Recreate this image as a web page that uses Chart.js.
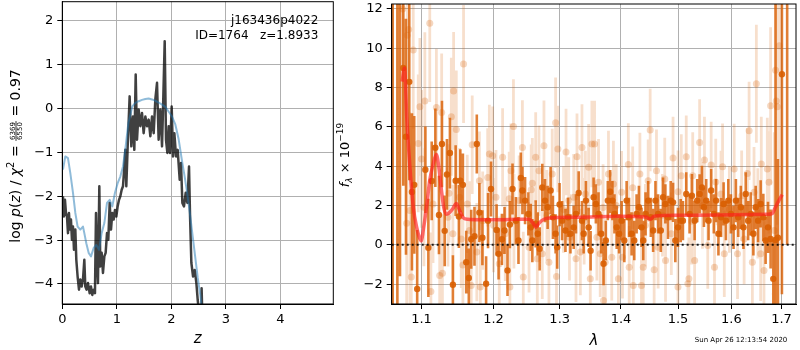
<!DOCTYPE html>
<html>
<head>
<meta charset="utf-8">
<script src="https://cdn.jsdelivr.net/npm/chart.js@4.4.1/dist/chart.umd.min.js"></script>
<style>
  body { margin: 0; background: #fff; }
  #wrap { position: relative; width: 800px; height: 350px; }
  canvas { position: absolute; top: 0; }
</style>
</head>
<body>
<div id="wrap">
  <canvas id="pz" width="336" height="350" style="left:0"></canvas>
  <canvas id="spec" width="466" height="350" style="left:334px"></canvas>
</div>
<script>
// ---- p(z) panel ----
const zTicks = [0, 1, 2, 3, 4];
const pzTicks = [2, 1, 0, -1, -2, -3, -4];
const objName = 'j163436p4022';
const objInfo = 'ID=1764   z=1.8933';

// log p(z), black curve (null = gap)
const zBlack = [0.012, 0.031, 0.049, 0.067, 0.086, 0.104, 0.122, 0.141, 0.159, 0.177, 0.196, 0.214, 0.239, 0.257,
  0.281, 0.306, 0.330, 0.355, 0.379, 0.404, 0.422, 0.446, 0.471, 0.502, 0.526, 0.550, 0.575, 0.599, 0.618, 0.636,
  0.654, 0.679, 0.697, 0.722, 0.746, 0.771, 0.795, 0.820, 0.844, 0.869, 0.893, 0.917, 0.942, 0.966, 0.991, 1.015,
  1.040, 1.064, 1.089, 1.113, 1.138, 1.156, 1.174, 1.199, 1.235, 1.266, 1.297, 1.321, 1.346, 1.370, 1.401, 1.431,
  1.462, 1.492, 1.523, 1.554, 1.584, 1.615, 1.645, 1.676, 1.706, 1.737, 1.767, 1.798, 1.829, 1.853, 1.878, 1.902,
  1.927, 1.951, 1.976, 2.006, 2.031, 2.055, 2.086, 2.116, 2.153, 2.177, 2.202, 2.232, 2.263, 2.294, 2.324, 2.343,
  2.367, 2.398, 2.428, 2.459, 2.483, 2.508, 2.530, 2.537, 2.545, 2.555, 2.565, 2.575];
const pBlack = [-2.00, -2.46, -2.08, -2.38, -2.46, -2.84, -2.38, -2.76, -2.53, -2.99, -2.69, -3.22, -2.76, -3.45,
  -3.83, -4.13, -3.90, -4.06, -3.90, -3.45, -4.06, -4.13, -3.98, -4.21, -4.06, -4.25, -4.13, -4.21, -2.38, -3.45,
  -3.98, -1.77, -3.60, -3.29, -3.75, -3.37, -3.29, -2.84, -2.99, -2.15, -2.76, -2.38, -2.53, -2.31, -2.46, -2.23,
  -2.08, -2.00, -1.85, -1.77, -1.32, -0.94, -1.77, -0.86, 0.28, -0.86, -0.18, -0.94, 0.78, -0.71, -0.02, -0.40,
  -0.10, -0.56, -0.18, -0.40, -0.25, -0.63, -0.18, -0.56, 0.21, 0.59, -0.71, -0.02, -0.86, 0.28, 1.54, -0.71,
  -1.01, -0.40, -1.01, 0.05, -1.09, -0.56, -1.09, -0.94, -1.62, -1.24, -2.15, -2.23, -1.92, -2.15, -1.32, -2.46,
  -3.52, -3.83, -3.68, -3.98, -4.36, -4.66, -5.20, null, -5.5, -4.1, -4.6, -5.5];

// blue curve
const zBlue = [0.012, 0.055, 0.104, 0.147, 0.196, 0.239, 0.281, 0.330, 0.379, 0.404, 0.440, 0.483, 0.526, 0.575,
  0.624, 0.673, 0.722, 0.771, 0.820, 0.869, 0.917, 0.966, 1.015, 1.064, 1.113, 1.162, 1.211, 1.284, 1.339, 1.401,
  1.462, 1.523, 1.584, 1.645, 1.706, 1.767, 1.829, 1.890, 1.951, 2.012, 2.073, 2.134, 2.196, 2.244, 2.287, 2.336,
  2.385, 2.434, 2.483, 2.530, 2.580];
const pBlue = [-1.39, -1.09, -1.13, -1.47, -1.92, -2.38, -2.69, -2.76, -2.69, -2.84, -3.07, -3.29, -3.37, -3.18,
  -3.11, -3.22, -2.84, -2.61, -2.15, -2.08, -2.23, -1.92, -1.70, -1.55, -1.32, -0.86, -0.33, 0.05, 0.13, 0.17,
  0.20, 0.22, 0.23, 0.21, 0.18, 0.14, 0.09, 0.04, -0.07, -0.18, -0.36, -0.70, -1.20, -1.55, -1.90, -2.35,
  -2.85, -3.35, -3.85, -4.25, -4.75];

// ---- spectrum panel ----
const lamTicks = [1.1, 1.2, 1.3, 1.4, 1.5, 1.6, 1.7];
const fluxTicks = [12, 10, 8, 6, 4, 2, 0, -2];
const lamRange = [1.061, 1.730];
const stamp = 'Sun Apr 26 12:13:54 2020';

// good pixels: [lambda, flux, err]
const darkPts = [
  [1.0623, 14.0, 18], [1.0683, 14.0, 18], [1.0717, 14.0, 15.6], [1.0760, 9.0, 6], [1.0795, 5.5, 6], [1.0838, 8.29, 5],
  [1.0873, 2.69, 4], [1.0903, 3.05, 3.5], [1.0942, -2.25, 3], [1.1051, 3.82, 2.2], [1.1091, -0.15, 2.5],
  [1.1136, 3.25, 2.0], [1.1185, 4.94, 2.0], [1.1234, 1.52, 2.0], [1.1275, 5.13, 2.2], [1.1312, 0.71, 1.8],
  [1.1343, 3.58, 1.8], [1.1384, 4.67, 1.8], [1.1425, -2.03, 1.5], [1.1463, 3.26, 1.8], [1.1508, 1.44, 1.6],
  [1.1528, 3.26, 1.6], [1.1564, 3.05, 1.6], [1.1611, -0.88, 1.6], [1.1647, -1.69, 1.5], [1.1681, 0.28, 1.5],
  [1.1727, 0.44, 1.5], [1.1760, 5.13, 1.5], [1.1797, 1.64, 1.5], [1.1840, 0.36, 1.4], [1.1893, -1.98, 1.4],
  [1.1921, 1.23, 1.4], [1.1964, 2.84, 1.4], [1.2045, 0.76, 1.3], [1.2074, -0.46, 1.3], [1.2123, 0.28, 1.3],
  [1.2161, 0.73, 1.2], [1.2205, -1.30, 1.3], [1.2240, 1.03, 1.2], [1.2279, 2.84, 1.3], [1.2329, 1.23, 1.2],
  [1.2368, 0.22, 1.2], [1.2403, 3.40, 1.3], [1.2427, 2.76, 1.2], [1.2467, 2.25, 1.2], [1.2517, 1.57, 1.1],
  [1.2553, 0.89, 1.2], [1.2577, 0.22, 1.1], [1.2628, 1.07, 1.2], [1.2659, 0.56, 1.1], [1.2689, -0.20, 1.1],
  [1.2729, 2.92, 1.2], [1.2771, 2.25, 1.1], [1.2812, 1.91, 1.1], [1.2858, 2.76, 1.2], [1.2894, 1.40, 1.1],
  [1.2936, 0.56, 1.0], [1.2961, -0.12, 1.1], [1.2998, 2.05, 1.1], [1.3038, 1.23, 1.0], [1.3091, 0.73, 1.1],
  [1.3132, 1.40, 1.0], [1.3170, 0.56, 1.0], [1.3222, 0.89, 1.1], [1.3259, 1.57, 1.0], [1.3302, 2.64, 1.1],
  [1.3355, 1.23, 1.0], [1.3382, 0.56, 1.0], [1.3419, 2.25, 1.0], [1.3463, 0.89, 1.0], [1.3495, -0.30, 1.0],
  [1.3544, 2.42, 1.0], [1.3581, 2.08, 1.0], [1.3625, 1.57, 1.1], [1.3670, 0.56, 1.0], [1.3708, -0.96, 1.1],
  [1.3746, 0.22, 1.0], [1.3779, 2.25, 1.0], [1.3818, 2.70, 1.1], [1.3856, 2.25, 1.0], [1.3890, 1.57, 1.0],
  [1.3928, 0.89, 1.1], [1.3968, 0.56, 1.0], [1.4011, 1.23, 1.0], [1.4057, 0.22, 1.1], [1.4096, 2.25, 1.0],
  [1.4137, 1.40, 1.0], [1.4181, 0.56, 1.1], [1.4227, 0.22, 1.0], [1.4267, 1.57, 1.0], [1.4307, 1.91, 1.1],
  [1.4352, 0.89, 1.0], [1.4382, 0.22, 1.0], [1.4422, 1.57, 1.1], [1.4468, 2.25, 1.0], [1.4515, 1.40, 1.0],
  [1.4555, 0.73, 1.1], [1.4596, 2.25, 1.0], [1.4643, 1.57, 1.0], [1.4691, 0.73, 1.1], [1.4731, 2.42, 1.0],
  [1.4772, 2.08, 1.0], [1.4820, 1.40, 1.1], [1.4868, 2.25, 1.0], [1.4910, 2.16, 1.0], [1.4951, 0.22, 1.1],
  [1.4999, 0.89, 1.0], [1.5048, 1.23, 1.1], [1.5089, 1.23, 1.0], [1.5150, 2.59, 1.1], [1.5211, 1.57, 1.0],
  [1.5254, 2.50, 1.1], [1.5304, 1.23, 1.0], [1.5352, 2.25, 1.1], [1.5397, 2.59, 1.0], [1.5440, 2.92, 1.1],
  [1.5477, 1.91, 1.0], [1.5520, 2.25, 1.1], [1.5564, 1.23, 1.0], [1.5613, 2.76, 1.1], [1.5663, 1.57, 1.0],
  [1.5706, 2.25, 1.1], [1.5751, 0.56, 1.1], [1.5800, 1.40, 1.0], [1.5850, 2.08, 1.1], [1.5894, 1.23, 1.0],
  [1.5940, 2.25, 1.1], [1.5990, 1.57, 1.0], [1.6042, 0.89, 1.1], [1.6087, 2.25, 1.1], [1.6133, 1.40, 1.0],
  [1.6183, 1.91, 1.1], [1.6235, 0.89, 1.1], [1.6280, 2.59, 1.1], [1.6327, 1.23, 1.0], [1.6378, 1.57, 1.1],
  [1.6431, 0.56, 1.1], [1.6477, 1.91, 1.1], [1.6524, 1.23, 1.1], [1.6576, 2.08, 1.2], [1.6630, 1.40, 1.2],
  [1.6676, 0.22, 1.2], [1.6724, 0.89, 1.3], [1.6777, 0.30, 1.5], [1.6831, -1.73, 2.0], [1.6878, 0.25, 14],
  [1.6926, 0.36, 4], [1.7008, 8.68, 11.2], [1.7116, 13.0, 13]
];

// lower-weight pixels: [lambda, flux, err]
const lightPts = [
  [1.0752, 12.0, 6], [1.0812, 10.66, 5], [1.0830, 10.95, 5], [1.0890, 9.91, 4], [1.1110, 11.27, 4], [1.1573, 9.2, 3],
  [1.1435, 7.83, 3], [1.1044, 7.31, 3.5], [1.0978, 7.02, 3.5], [1.1199, 6.98, 3], [1.1271, 6.73, 3], [1.1403, 6.51, 3],
  [1.1472, 5.87, 3], [1.1695, 5.09, 2.5], [1.1940, 4.62, 2.5], [1.0956, 5.16, 3.5], [1.1000, 4.37, 3.5],
  [1.0804, 1.1, 5], [1.0847, 1.74, 5], [1.1031, 1.91, 3], [1.1154, 2.08, 3], [1.1371, 2.62, 2.5], [1.1518, 2.42, 2.5],
  [1.1625, 2.08, 2.5], [1.1797, 3.26, 2.5], [1.1916, 3.43, 2.5], [1.0864, -1.64, 4], [1.1244, -1.56, 3],
  [1.1281, -1.44, 3], [1.1125, -2.37, 3], [1.1564, -1.02, 2.5], [1.1681, -2.07, 2.5], [1.1810, -2.15, 2.5],
  [1.1425, 0.56, 2.5], [1.1541, 0.30, 2.5], [1.1657, 0.73, 2.5], [1.1760, -0.37, 2.5], [1.1844, 1.23, 2.5],
  [1.1357, 1.40, 2.5], [1.1988, 4.53, 2.5], [1.2133, 4.45, 2.5], [1.2293, 6.02, 2.4], [1.2255, 3.77, 2.4],
  [1.2427, 4.95, 2.4], [1.2577, 3.13, 2.3], [1.2628, 4.45, 2.3], [1.2755, 5.04, 2.3], [1.2936, 6.21, 2.3],
  [1.2971, 4.87, 2.2], [1.3100, 4.72, 2.2], [1.3275, 4.48, 2.2], [1.3355, 4.95, 2.2], [1.3516, 5.13, 2.2],
  [1.3463, 3.94, 2.2], [1.2036, 2.42, 2.4], [1.2230, 2.34, 2.4], [1.2378, 2.25, 2.3], [1.2678, 3.77, 2.3],
  [1.2883, 3.60, 2.3], [1.3143, 2.25, 2.2], [1.3222, 2.42, 2.2], [1.3410, 2.59, 2.2], [1.2084, -0.96, 2.4],
  [1.2240, -2.15, 2.4], [1.2440, -1.64, 2.3], [1.2653, -0.71, 2.3], [1.2729, -0.46, 2.3], [1.2832, -0.88, 2.3],
  [1.2950, -1.61, 2.2], [1.3259, -0.71, 2.2], [1.3329, -0.37, 2.2], [1.3155, 0.39, 2.2], [1.2527, -0.12, 2.3],
  [1.2172, 0.56, 2.4], [1.3560, 5.13, 2.2], [1.4503, 5.84, 2.1], [1.4910, 4.42, 2.1], [1.5150, 4.48, 2.1],
  [1.3790, 3.60, 2.2], [1.4125, 4.08, 2.1], [1.4324, 3.60, 2.1], [1.4614, 3.77, 2.1], [1.4761, 3.35, 2.1],
  [1.5059, 3.52, 2.1], [1.3625, 3.18, 2.2], [1.3873, 3.10, 2.2], [1.4011, 2.67, 2.1], [1.4468, 3.26, 2.1],
  [1.3708, -2.83, 2.2], [1.3736, -0.88, 2.2], [1.3956, -1.73, 2.1], [1.4140, -1.14, 2.1], [1.4210, -2.07, 2.1],
  [1.4382, -1.14, 2.1], [1.4352, -2.07, 2.1], [1.4573, -1.27, 2.1], [1.4775, -0.80, 2.1], [1.4999, -2.15, 2.1],
  [1.5180, -1.98, 2.1], [1.3653, -0.46, 2.2], [1.3845, -0.63, 2.2], [1.4025, -0.63, 2.1], [1.4643, -0.12, 2.1],
  [1.4879, 0.56, 2.1], [1.3490, -1.73, 2.2], [1.3598, 0.39, 2.2], [1.6490, 8.19, 3], [1.6878, 8.88, 6],
  [1.6892, 7.32, 6], [1.6912, 7.02, 6], [1.6777, 7.07, 4], [1.6953, 10.12, 8], [1.6346, 5.80, 2.5],
  [1.5397, 5.21, 2.2], [1.5613, 4.06, 2.2], [1.5830, 3.97, 2.2], [1.6313, 3.63, 2.3], [1.6589, 4.11, 2.4],
  [1.6710, 3.86, 2.6], [1.5269, 3.52, 2.2], [1.5487, 4.31, 2.2], [1.6054, 3.86, 2.3], [1.5800, 2.59, 2.2],
  [1.6444, 2.67, 2.3], [1.6744, 3.18, 2.6], [1.5304, -0.80, 2.2], [1.5676, -1.14, 2.2], [1.5863, -0.46, 2.2],
  [1.6119, -0.46, 2.3], [1.6411, -0.88, 2.3], [1.6576, -0.46, 2.4], [1.6643, -1.30, 2.5], [1.5198, -1.73, 2.1],
  [1.5549, -0.04, 2.2], [1.6248, 0.30, 2.3], [1.6852, 0.73, 5], [1.3060, 1.8, 2.2], [1.3390, 1.2, 2.2],
  [1.3700, 1.9, 2.2], [1.3920, 2.0, 2.1], [1.4200, 2.9, 2.1], [1.4420, 1.0, 2.1], [1.4720, 1.5, 2.1],
  [1.5000, 2.7, 2.1], [1.5250, 1.2, 2.2], [1.5450, 2.0, 2.2], [1.5700, 3.2, 2.2], [1.5960, 1.8, 2.2],
  [1.6200, 2.5, 2.3], [1.6520, 1.6, 2.3], [1.2560, 2.8, 2.3], [1.2800, 1.5, 2.3], [1.2300, 1.2, 2.4],
  [1.2000, 1.0, 2.4]
];

// model spectrum
const modelLam = [1.0745, 1.0776, 1.0805, 1.0847, 1.0891, 1.0935, 1.0978, 1.0998, 1.1021, 1.1066, 1.1110, 1.1155,
  1.1199, 1.1234, 1.1267, 1.1299, 1.1335, 1.1380, 1.1425, 1.1472, 1.1518, 1.1564, 1.1633, 1.1797, 1.2084, 1.2378,
  1.2527, 1.2588, 1.2628, 1.2678, 1.2755, 1.2910, 1.3302, 1.3956, 1.4433, 1.4503, 1.4573, 1.4999, 1.5736, 1.6710,
  1.6811, 1.6872, 1.6933, 1.7014];
const modelFlux = [8.3, 9.0, 6.5, 3.9, 1.9, 0.9, 0.3, 0.2, 0.7, 1.9, 3.3, 4.1,
  4.6, 3.9, 2.8, 1.9, 1.55, 1.65, 1.85, 2.1, 1.75, 1.4, 1.3, 1.28, 1.28, 1.3,
  1.3, 1.1, 0.9, 1.1, 1.3, 1.38, 1.4, 1.45, 1.42, 1.3, 1.45, 1.5, 1.52, 1.55,
  1.6, 1.9, 2.2, 2.55];

Chart.defaults.font.family = "'DejaVu Sans', sans-serif";
Chart.defaults.font.size = 13;
Chart.defaults.color = '#000';

const minus = v => String(v).replace('-', '\u2212');
const ORANGE = 'rgba(217,95,2,';

// box around the plot area
const frame = {
  id: 'frame',
  afterDraw(chart) {
    const { ctx, chartArea: a } = chart;
    ctx.save();
    ctx.strokeStyle = '#000';
    ctx.lineWidth = 1;
    ctx.strokeRect(a.left, a.top, a.right - a.left, a.bottom - a.top);
    ctx.restore();
  }
};

// draws a rotated run of text pieces, centred on (cx, cy)
function drawRotated(ctx, cx, cy, parts) {
  ctx.save();
  ctx.translate(cx, cy);
  ctx.rotate(-Math.PI / 2);
  ctx.fillStyle = '#000';
  ctx.textBaseline = 'alphabetic';
  ctx.textAlign = 'left';
  let total = 0;
  parts.forEach(p => {
    ctx.font = p.font;
    p.w = p.frac ? Math.max(ctx.measureText(p.frac[0]).width, ctx.measureText(p.frac[1]).width) + 2 : ctx.measureText(p.text).width;
    total += p.w;
  });
  let x = -total / 2;
  parts.forEach(p => {
    ctx.font = p.font;
    if (p.frac) {
      const bar = -4;
      ctx.textAlign = 'center';
      ctx.fillText(p.frac[0], x + p.w / 2, bar - 1.3);
      ctx.fillText(p.frac[1], x + p.w / 2, bar + 6.3);
      ctx.fillRect(x, bar - 0.4, p.w, 0.8);
      ctx.textAlign = 'left';
    } else {
      ctx.fillText(p.text, x, p.dy || 0);
    }
    x += p.w;
  });
  ctx.restore();
}

const pzText = {
  id: 'pzText',
  afterDraw(chart) {
    const ctx = chart.ctx;
    ctx.save();
    ctx.fillStyle = '#000';
    ctx.font = "12px 'DejaVu Sans'";
    ctx.textAlign = 'right';
    ctx.fillText(objName, 318.3, 24.3);
    ctx.fillText(objInfo, 318.3, 39.3);
    ctx.restore();
    const n = "14px 'DejaVu Sans'", it = "italic 14px 'DejaVu Sans'";
    drawRotated(ctx, 20, 156, [
      { text: 'log ', font: n }, { text: 'p', font: it }, { text: '(', font: n }, { text: 'z', font: it },
      { text: ') / ', font: n }, { text: '\u03c7', font: it }, { text: '2', font: "10px 'DejaVu Sans'", dy: -6 },
      { text: ' = ', font: n }, { frac: ['6369', '6550'], font: "7px 'DejaVu Sans'" }, { text: ' = 0.97', font: n }
    ]);
  }
};

const specText = {
  id: 'specText',
  afterDraw(chart) {
    const ctx = chart.ctx;
    drawRotated(ctx, 15, 155, [
      { text: 'f', font: "italic 13px 'DejaVu Sans'" }, { text: '\u03bb', font: "italic 9px 'DejaVu Sans'", dy: 3 },
      { text: ' \u00d7 10', font: "13px 'DejaVu Sans'" }, { text: '\u221219', font: "9px 'DejaVu Sans'", dy: -6 }
    ]);
    ctx.save();
    ctx.fillStyle = '#000';
    ctx.font = "7px 'DejaVu Sans'";
    ctx.textAlign = 'right';
    ctx.fillText(stamp, 453.3, 342);
    ctx.restore();
  }
};

function gridOpts() {
  return { color: '#b0b0b0', lineWidth: 1, tickColor: '#000', tickLength: 5 };
}

new Chart(document.getElementById('pz'), {
  type: 'scatter',
  data: {
    datasets: [
      {
        data: zBlue.map((z, i) => ({ x: z, y: pBlue[i] })),
        showLine: true, borderColor: 'rgba(31,119,180,0.5)', borderWidth: 2, pointRadius: 0,
        borderJoinStyle: 'round'
      },
      {
        data: zBlack.map((z, i) => ({ x: z, y: pBlack[i] })),
        showLine: true, spanGaps: false, borderColor: 'rgba(0,0,0,0.75)', borderWidth: 2.5, pointRadius: 0,
        borderJoinStyle: 'round'
      }
    ]
  },
  options: {
    responsive: false,
    animation: false,
    layout: { padding: { left: 0, top: 1.7, right: 2.7, bottom: 0 } },
    plugins: { legend: { display: false }, tooltip: { enabled: false } },
    scales: {
      x: {
        type: 'linear', min: 0, max: 4.97,
        afterBuildTicks: s => { s.ticks = zTicks.map(v => ({ value: v })); },
        afterFit: s => { s.height = 46; s.paddingLeft = 0; s.paddingRight = 0; },
        grid: gridOpts(), border: { color: '#000' },
        ticks: { padding: 3, maxRotation: 0, autoSkip: false, callback: v => minus(v) },
        title: { display: true, text: 'z', font: { size: 15, style: 'italic' }, padding: { top: 0, bottom: 2 } }
      },
      y: {
        type: 'linear', min: -4.457, max: 2.44,
        afterBuildTicks: s => { s.ticks = pzTicks.map(v => ({ value: v })); },
        afterFit: s => { s.width = 62.3; s.paddingTop = 0; s.paddingBottom = 0; },
        grid: gridOpts(), border: { color: '#000' },
        ticks: { padding: 4, autoSkip: false, callback: v => minus(v) }
      }
    }
  },
  plugins: [frame, pzText]
});

function errorSegments(pts) {
  const out = [];
  pts.forEach(p => {
    out.push({ x: p[0], y: p[1] - p[2] }, { x: p[0], y: p[1] + p[2] }, { x: p[0], y: null });
  });
  return out;
}

new Chart(document.getElementById('spec'), {
  type: 'scatter',
  data: {
    datasets: [
      {
        data: modelLam.map((l, i) => ({ x: l, y: modelFlux[i] })),
        showLine: true, borderColor: 'rgba(255,30,30,0.65)', borderWidth: 3.5, pointRadius: 0,
        borderJoinStyle: 'round', cubicInterpolationMode: 'monotone'
      },
      {
        data: lamRange.map(l => ({ x: l, y: 0 })),
        showLine: true, borderColor: 'rgba(0,0,0,0.85)', borderWidth: 2, borderDash: [2, 3], pointRadius: 0
      },
      {
        data: darkPts.map(p => ({ x: p[0], y: p[1] })),
        pointRadius: 3.2, pointBackgroundColor: ORANGE + '0.9)', pointBorderWidth: 0
      },
      {
        data: errorSegments(darkPts),
        showLine: true, spanGaps: false, borderColor: ORANGE + '0.8)', borderWidth: 2.6, pointRadius: 0,
        borderCapStyle: 'butt'
      },
      {
        data: lightPts.map(p => ({ x: p[0], y: p[1] })),
        pointRadius: 3.5, pointBackgroundColor: ORANGE + '0.25)', pointBorderWidth: 0
      },
      {
        data: errorSegments(lightPts),
        showLine: true, spanGaps: false, borderColor: ORANGE + '0.2)', borderWidth: 2.8, pointRadius: 0,
        borderCapStyle: 'butt'
      }
    ]
  },
  options: {
    responsive: false,
    animation: false,
    layout: { padding: { left: 0, top: 2.3, right: 1, bottom: 0 } },
    plugins: { legend: { display: false }, tooltip: { enabled: false } },
    scales: {
      x: {
        type: 'logarithmic', min: lamRange[0], max: lamRange[1],
        afterBuildTicks: s => { s.ticks = lamTicks.map(v => ({ value: v })); },
        afterFit: s => { s.height = 46; s.paddingLeft = 0; s.paddingRight = 0; },
        grid: gridOpts(), border: { color: '#000' },
        ticks: { padding: 3, maxRotation: 0, autoSkip: false, callback: v => Number(v).toFixed(1) },
        title: { display: true, text: '\u03bb', font: { size: 15, style: 'italic' }, padding: { top: 0, bottom: 0 } }
      },
      y: {
        type: 'linear', min: -3.01, max: 12.25,
        afterBuildTicks: s => { s.ticks = fluxTicks.map(v => ({ value: v })); },
        afterFit: s => { s.width = 57.7; s.paddingTop = 0; s.paddingBottom = 0; },
        grid: gridOpts(), border: { color: '#000' },
        ticks: { padding: 4, autoSkip: false, callback: v => minus(v) }
      }
    }
  },
  plugins: [frame, specText]
});
</script>
</body>
</html>
